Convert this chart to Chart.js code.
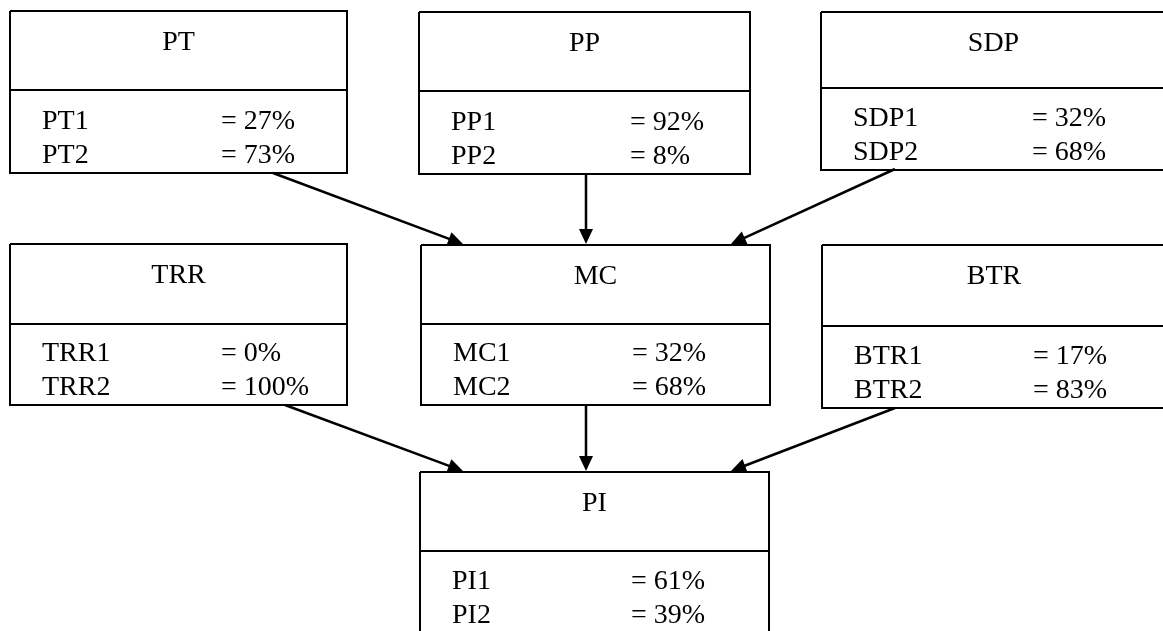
<!DOCTYPE html>
<html lang="en">
<head>
    <title>Bayesian network</title>
    <meta charset="utf-8" />
    <script src="https://cdn.jsdelivr.net/npm/chart.js"></script>
    <style>
        html, body { margin: 0; padding: 0; background: #fff; }
        #chart { display: block; }
    </style>
</head>
<body>
    <canvas id="chart" width="1163" height="631"></canvas>

    <script>
        // Nodes and their state probabilities (%)
        var nodeNames = ['PT', 'PP', 'SDP', 'TRR', 'MC', 'BTR', 'PI'];
        var state1Values = [27, 92, 32, 0, 32, 17, 61];
        var state2Values = [73, 8, 68, 100, 68, 83, 39];
        var edgeFrom = ['PT', 'PP', 'SDP', 'TRR', 'MC', 'BTR'];
        var edgeTo = ['MC', 'MC', 'MC', 'PI', 'PI', 'PI'];

        // Layout (page pixels): left, top, right, divider, bottom
        var boxLayout = {
            PT:  [10, 11, 347, 90, 173],
            PP:  [419, 12, 750, 91, 174],
            SDP: [821, 12, 1166, 88, 170],
            TRR: [10, 244, 347, 324, 405],
            MC:  [421, 245, 770, 324, 405],
            BTR: [822, 245, 1166, 326, 408],
            PI:  [420, 472, 769, 551, 633]
        };
        // arrow start / tip for each edge
        var edgeLayout = [
            [273, 173, 463, 244],
            [586, 174, 586, 244],
            [895, 169, 731, 244],
            [285, 405, 463, 471],
            [586, 405, 586, 471],
            [895, 408, 731, 471]
        ];

        var datasets = [];
        nodeNames.forEach(function (name) {
            var b = boxLayout[name];
            datasets.push({
                data: [{x: b[0], y: b[1]}, {x: b[2], y: b[1]}, {x: b[2], y: b[4]}, {x: b[0], y: b[4]}, {x: b[0], y: b[1]}],
                showLine: true, borderColor: '#000', borderWidth: 2, pointRadius: 0, tension: 0
            });
            datasets.push({
                data: [{x: b[0], y: b[3]}, {x: b[2], y: b[3]}],
                showLine: true, borderColor: '#000', borderWidth: 2, pointRadius: 0
            });
        });

        var HEAD = 15;
        edgeLayout.forEach(function (e) {
            var dx = e[2] - e[0], dy = e[3] - e[1];
            var len = Math.sqrt(dx * dx + dy * dy);
            var k = (len - HEAD * 0.7) / len;
            datasets.push({
                data: [{x: e[0], y: e[1]}, {x: e[0] + dx * k, y: e[1] + dy * k}],
                showLine: true, borderColor: '#000', borderWidth: 2.5, pointRadius: 0
            });
        });

        var diagramPlugin = {
            id: 'diagram',
            afterDatasetsDraw: function (chart) {
                var ctx = chart.ctx;
                var xs = chart.scales.x, ys = chart.scales.y;
                ctx.save();
                ctx.fillStyle = '#000';

                // arrow heads
                edgeLayout.forEach(function (e) {
                    var x0 = xs.getPixelForValue(e[0]), y0 = ys.getPixelForValue(e[1]);
                    var x1 = xs.getPixelForValue(e[2]), y1 = ys.getPixelForValue(e[3]);
                    var a = Math.atan2(y1 - y0, x1 - x0);
                    var w = 7;
                    ctx.beginPath();
                    ctx.moveTo(x1, y1);
                    ctx.lineTo(x1 - HEAD * Math.cos(a) + w * Math.sin(a), y1 - HEAD * Math.sin(a) - w * Math.cos(a));
                    ctx.lineTo(x1 - HEAD * Math.cos(a) - w * Math.sin(a), y1 - HEAD * Math.sin(a) + w * Math.cos(a));
                    ctx.closePath();
                    ctx.fill();
                });

                // node texts
                ctx.font = '28px "Liberation Serif", "Times New Roman", serif';
                ctx.textBaseline = 'alphabetic';
                nodeNames.forEach(function (name, i) {
                    var b = boxLayout[name];
                    var left = xs.getPixelForValue(b[0]), right = xs.getPixelForValue(b[2]);
                    var top = ys.getPixelForValue(b[1]), bottom = ys.getPixelForValue(b[4]);
                    ctx.textAlign = 'center';
                    ctx.fillText(name, (left + right) / 2, top + 39);
                    ctx.textAlign = 'left';
                    ctx.fillText(name + '1', left + 32, bottom - 44);
                    ctx.fillText(name + '2', left + 32, bottom - 10);
                    ctx.fillText('= ' + state1Values[i] + '%', left + 211, bottom - 44);
                    ctx.fillText('= ' + state2Values[i] + '%', left + 211, bottom - 10);
                });
                ctx.restore();
            }
        };

        new Chart(document.getElementById('chart'), {
            type: 'scatter',
            data: { datasets: datasets },
            options: {
                responsive: false,
                animation: false,
                devicePixelRatio: 1,
                layout: { padding: 0 },
                plugins: { legend: { display: false }, tooltip: { enabled: false } },
                scales: {
                    x: { type: 'linear', min: 0, max: 1163, display: false },
                    y: { type: 'linear', min: 0, max: 631, reverse: true, display: false }
                }
            },
            plugins: [diagramPlugin]
        });
    </script>
</body>
</html>
